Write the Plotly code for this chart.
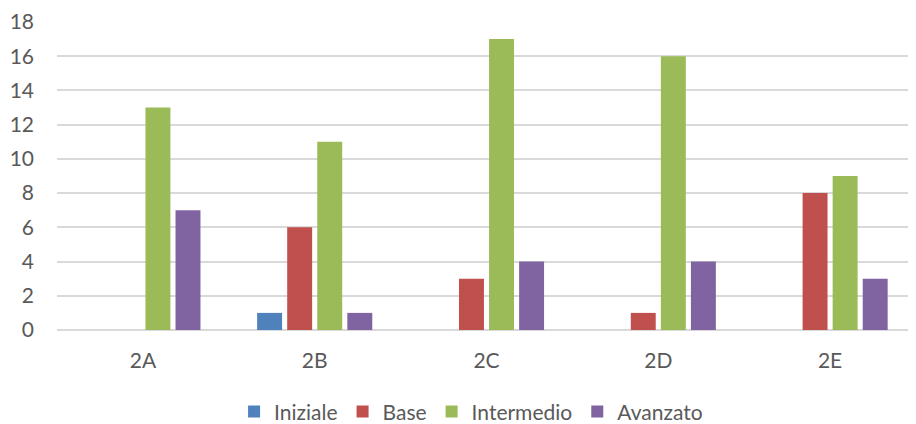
import plotly.graph_objects as go

categories = ["2A", "2B", "2C", "2D", "2E"]
iniziale = [0, 1, 0, 0, 0]
base = [0, 6, 3, 1, 8]
intermedio = [13, 11, 17, 16, 9]
avanzato = [7, 1, 4, 4, 3]

series = [
    ("Iniziale", iniziale, "#4F81BD"),
    ("Base", base, "#C0504D"),
    ("Intermedio", intermedio, "#9BBB59"),
    ("Avanzato", avanzato, "#8064A2"),
]

fig = go.Figure()
for name, vals, col in series:
    fig.add_trace(go.Bar(x=categories, y=vals, name=name, marker_color=col,
                         marker_line_width=0))

font = dict(family="Lato, 'Open Sans', sans-serif", size=21, color="#595959")
fig.update_layout(
    width=908, height=416,
    margin=dict(l=49, r=0, t=14, b=94),
    paper_bgcolor="white", plot_bgcolor="white",
    barmode="group", bargap=0.3, bargroupgap=0.17,
    font=font,
    showlegend=True,
    legend=dict(orientation="h", xref="container", x=0.51, xanchor="center",
                yref="container", y=0.029, yanchor="middle",
                font=font, itemwidth=30, traceorder="normal"),
    xaxis=dict(showgrid=False, showline=False, ticks="", tickfont=font,
               ticklabelstandoff=16, automargin=False),
    yaxis=dict(range=[0, 18], dtick=2, showgrid=True, gridcolor="#D9D9D9", gridwidth=1.5,
               zeroline=True, zerolinecolor="#D9D9D9", zerolinewidth=1.5,
               showline=False, ticks="", tickfont=font, ticklabelstandoff=22,
               automargin=False),
)
fig.write_html("out.html")
